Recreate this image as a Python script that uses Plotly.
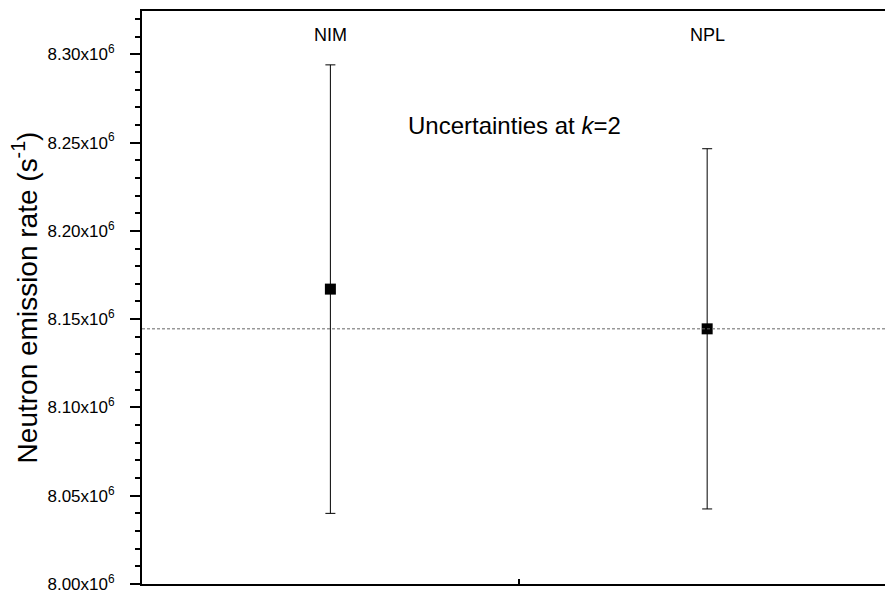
import plotly.graph_objects as go

labs = ["NIM", "NPL"]
xpos = [1, 2]
values = [8.1670e6, 8.1445e6]
unc = [0.1270e6, 0.1020e6]
ref_value = 8.1445e6
ytick_vals = [8.00e6, 8.05e6, 8.10e6, 8.15e6, 8.20e6, 8.25e6, 8.30e6]
ytick_text = ["8.00x10<sup>6</sup>", "8.05x10<sup>6</sup>", "8.10x10<sup>6</sup>",
              "8.15x10<sup>6</sup>", "8.20x10<sup>6</sup>", "8.25x10<sup>6</sup>",
              "8.30x10<sup>6</sup>"]

FONT = "Liberation Sans, Arial, sans-serif"

fig = go.Figure()
fig.add_hline(y=ref_value, line=dict(color="#666666", width=1, dash="3px,2px"))
fig.add_trace(go.Scatter(
    x=xpos, y=values, mode="markers",
    marker=dict(symbol="square", size=11, color="black"),
    error_y=dict(type="data", array=unc, visible=True, color="black",
                 thickness=1, width=5),
    showlegend=False,
))
for xv, lb in zip(xpos, labs):
    fig.add_annotation(x=xv, y=0.958, xref="x", yref="paper", text=lb,
                       yanchor="middle", showarrow=False,
                       font=dict(family=FONT, size=18, color="black"))
fig.add_annotation(x=1.488, y=0.801, xref="x", yref="paper",
                   text="Uncertainties at <i>k</i>=2", showarrow=False,
                   yanchor="middle",
                   font=dict(family=FONT, size=24, color="black"))

fig.update_layout(
    width=885, height=595,
    margin=dict(l=142, r=0, t=11, b=11),
    paper_bgcolor="white", plot_bgcolor="white",
    font=dict(family=FONT, color="black"),
    xaxis=dict(range=[0.5, 2.472], showgrid=False, zeroline=False,
               showline=True, linecolor="black", linewidth=2, mirror=True,
               tickvals=[1.5], ticktext=[""], ticks="inside", ticklen=5,
               tickwidth=2, tickcolor="black"),
    yaxis=dict(range=[8.0e6, 8.3245e6], showgrid=False, zeroline=False,
               showline=True, linecolor="black", linewidth=2,
               tickvals=ytick_vals, ticktext=ytick_text,
               ticks="outside", ticklen=10, tickwidth=2, tickcolor="black",
               ticklabelstandoff=12,
               tickfont=dict(family=FONT, size=17, color="black"),
               minor=dict(dtick=0.01e6, tick0=8.0e6, ticks="outside", ticklen=5,
                          tickwidth=2, tickcolor="black", showgrid=False),
               title=dict(text="Neutron emission rate (s<sup>-1</sup>)",
                          font=dict(family=FONT, size=28, color="black"),
                          standoff=2),
               automargin=False),
)

fig.write_html("out.html")
